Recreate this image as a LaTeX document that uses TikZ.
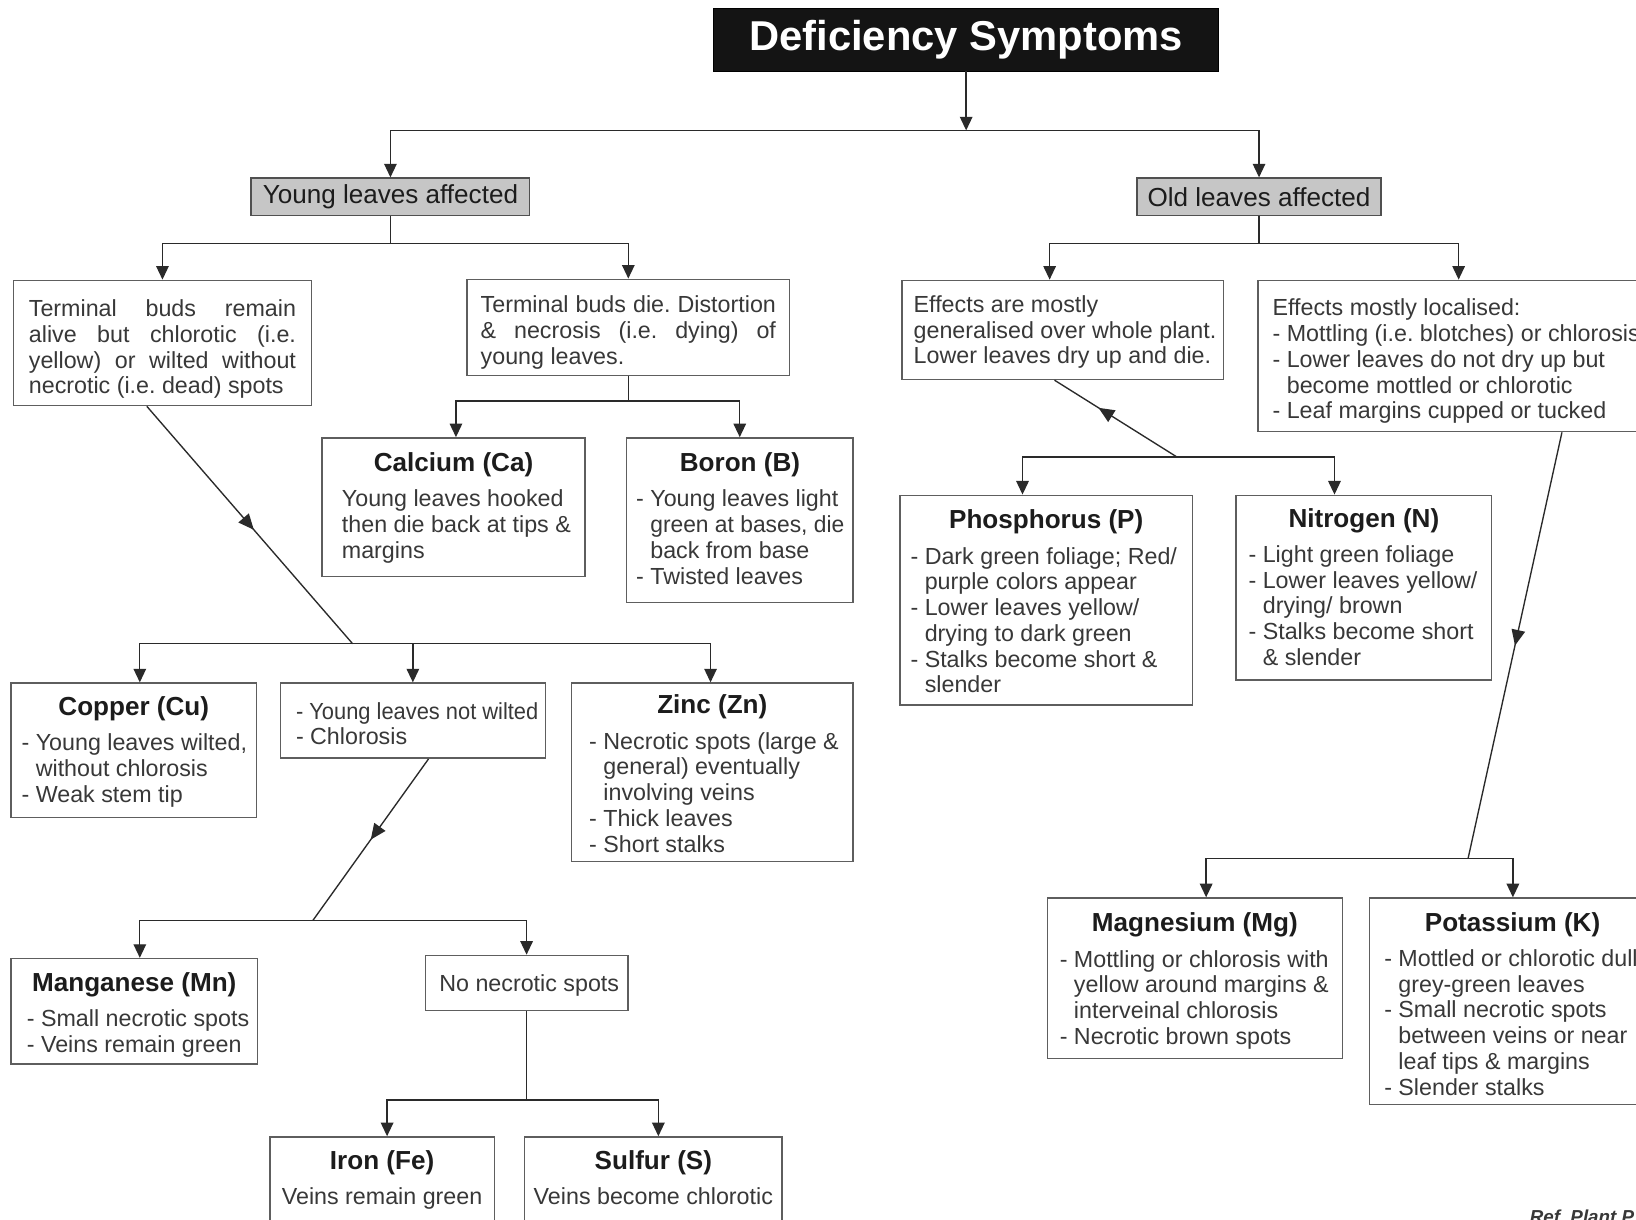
\documentclass[tikz,border=0pt]{standalone}
\usepackage{fontspec}
\setmainfont{Liberation Sans}
\usetikzlibrary{arrows.meta,decorations.markings}
\frenchspacing
\definecolor{titlec}{HTML}{141414}
\definecolor{lblfill}{HTML}{C6C6C6}
\definecolor{lblc}{HTML}{505050}
\definecolor{boxc}{HTML}{5E5E5E}
\definecolor{linec}{HTML}{2A2A2A}
\definecolor{txtc}{HTML}{383838}
\definecolor{headc}{HTML}{1C1C1C}
\newcommand\bodyf{\fontsize{22.3}{24.7}\selectfont}
\newcommand\headf{\fontsize{25}{28}\selectfont\bfseries}
\newcommand\rs{\spaceskip=0pt\xspaceskip=0pt\relax}
\newcommand\hd[1]{{\centering\headf\leavevmode\color{headc}#1\par}\vspace{9pt}}
\newcommand\ind{\hphantom{-\ }}
\newcommand\bt[1]{\vspace{-#1pt}}
\newenvironment{bl}{\begin{tabular}[t]{@{}l@{}}}{\end{tabular}}
\newcommand\js[2]{\makebox[#1pt][s]{#2}}
\newcommand\sq[2]{\scalebox{#1}[1]{#2}}
\begin{document}
\begin{tikzpicture}[x=1pt,y=-1pt,
  box/.style={draw=boxc, line width=1.4pt, fill=white, anchor=north west, align=left,
    inner ysep=0pt, font=\bodyf, text=txtc},
  grey/.style={draw=lblc, line width=1.4pt, fill=lblfill, minimum height=36pt,
    anchor=north west, inner xsep=0pt, font=\fontsize{25}{30}\selectfont, text=headc},
  conn/.style={draw=linec, line width=1.3pt},
  arr/.style={conn, -{Triangle[length=13pt,width=12pt]}},
  midarr/.style={conn, postaction={decorate}, decoration={markings,
    mark=at position #1 with {\arrow{Triangle[length=15pt,width=13pt]}}}},
  midrev/.style={conn, postaction={decorate}, decoration={markings,
    mark=at position #1 with {\arrowreversed{Triangle[length=15pt,width=13pt]}}}}]
\useasboundingbox (0,0) rectangle (1568,1169);
\clip (0,0) rectangle (1568,1169);
\fill[white] (0,0) rectangle (1568,1169);

% title and level 1
\node[draw=black, fill=titlec, text=white, minimum width=484pt, minimum height=60pt,
  inner sep=0pt, font=\fontsize{40}{48}\selectfont\bfseries] (title) at (926,38)
  {\raisebox{-3pt}{Deficiency Symptoms}};
\node[grey, minimum width=267pt] (young) at (240,170) {\raisebox{-1.5pt}{Young leaves affected}};
\node[grey, minimum width=234pt] (old) at (1089,170) {\raisebox{-1.5pt}{Old leaves affected}};

% young side
\node[box, inner xsep=15pt, text width=256pt, minimum height=120pt] (tA) at (12,268)
  {\rs\js{256}{Terminal buds remain}\\\js{256}{alive but chlorotic (i.e.}\\\js{256}{yellow) or wilted without}\\necrotic (i.e. dead) spots\bt{12}};
\node[box, inner xsep=13pt, text width=283pt, minimum height=92pt] (tB) at (447,267)
  {\rs\js{283}{Terminal buds die. Distortion}\\\js{283}{\& necrosis (i.e. dying) of}\\young leaves.\bt{10}};
\node[box, inner xsep=19pt, text width=214pt, minimum height=133pt] (ca) at (308,419)
  {\rs\hd{Calcium (Ca)}\begin{bl}Young leaves hooked\\then die back at tips \&\\margins\end{bl}\bt{4}};
\node[box, inner xsep=9pt, text width=199pt, minimum height=158pt] (bo) at (600,419)
  {\rs\hd{Boron (B)}\begin{bl}- Young leaves light\\\ind \sq{0.98}{green at bases, die}\\\ind back from base\\- Twisted leaves\end{bl}\bt{4}};
\node[box, inner xsep=10pt, text width=215pt, minimum height=129pt] (cu) at (10,654)
  {\rs\hd{Copper (Cu)}\begin{bl}- Young leaves wilted,\\\ind without chlorosis\\- Weak stem tip\end{bl}\bt{6}};
\node[box, inner xsep=15pt, text width=224pt, minimum height=72pt] (yl) at (268,654)
  {\rs\begin{bl}\sq{0.94}{- Young leaves not wilted}\\- Chlorosis\end{bl}\bt{12}};
\node[box, inner xsep=17pt, text width=236pt, minimum height=171pt] (zn) at (547,654)
  {\rs\hd{Zinc (Zn)}\begin{bl}- Necrotic spots (large \&\\\ind general) eventually\\\ind involving veins\\- Thick leaves\\- Short stalks\end{bl}\bt{10}};
\node[box, inner xsep=15pt, text width=206pt, minimum height=101pt] (mn) at (10,918)
  {\rs\hd{Manganese (Mn)}\begin{bl}- Small necrotic spots\\- Veins remain green\end{bl}\bt{10}};
\node[box, inner xsep=0pt, text width=194pt, minimum height=53pt] (nn) at (407,915)
  {\rs{\centering\hspace*{5pt}No necrotic spots\par}\bt{10}};
\node[box, inner xsep=8pt, inner ysep=13pt, text width=199pt] (fe) at (258,1089)
  {\rs\hd{Iron (Fe)}{\centering\mbox{Veins remain green}\rule[-45pt]{0pt}{45pt}\par}};
\node[box, inner xsep=8pt, inner ysep=13pt, text width=231pt] (su) at (502,1089)
  {\rs\hd{Sulfur (S)}{\centering\mbox{Veins become chlorotic}\rule[-45pt]{0pt}{45pt}\par}};

% old side
\node[box, inner xsep=11pt, text width=286pt, minimum height=95pt] (tC) at (864,268)
  {\rs\begin{bl}Effects are mostly\\generalised over whole plant.\\Lower leaves dry up and die.\end{bl}\bt{6}};
\node[box, inner xsep=14pt, text width=362pt, minimum height=145pt] (tD) at (1205,268)
  {\rs\begin{bl}Effects mostly localised:\\- Mottling (i.e. blotches) or chlorosis\\- Lower leaves do not dry up but\\\ind become mottled or chlorotic\\- Leaf margins cupped or tucked\end{bl}\bt{12}};
\node[box, inner xsep=10pt, text width=260pt, minimum height=201pt] (ph) at (862,474)
  {\rs\hd{Phosphorus (P)}\begin{bl}- Dark green foliage; Red/\\\ind purple colors appear\\- Lower leaves yellow/\\\ind drying to dark green\\- Stalks become short \&\\\ind slender\end{bl}\bt{10}};
\node[box, inner xsep=12pt, text width=221pt, minimum height=177pt] (ni) at (1184,474)
  {\rs\hd{Nitrogen (N)}\begin{bl}- Light green foliage\\- Lower leaves yellow/\\\ind drying/ brown\\- Stalks become short\\\ind\& slender\end{bl}\bt{6}};
\node[box, inner xsep=12pt, text width=259pt, minimum height=154pt] (mg) at (1003,860)
  {\rs\hd{Magnesium (Mg)}\begin{bl}- Mottling or chlorosis with\\\ind yellow around margins \&\\\ind interveinal chlorosis\\- Necrotic brown spots\end{bl}\bt{8}};
\node[box, inner xsep=14pt, text width=246pt, minimum height=198pt] (po) at (1312,860)
  {\rs\hd{Potassium (K)}\begin{bl}- Mottled or chlorotic dull\\\ind grey-green leaves\\- Small necrotic spots\\\ind between veins or near\\\ind leaf tips \& margins\\- Slender stalks\end{bl}\bt{12}};

\node[anchor=base west, inner sep=0pt, text=txtc, font=\fontsize{18}{20}\selectfont\bfseries\itshape]
  (ref) at (1466,1173) {Ref. Plant P};

% junction points
\coordinate (j0) at (926,125);
\coordinate (j1) at ([yshift=-26pt]young.south);
\coordinate (j2) at ([yshift=-24pt]tB.south);
\coordinate (jA) at (338,617);
\coordinate (jB) at (300,882);
\coordinate (jC) at ([yshift=-85pt]nn.south);
\coordinate (j3) at ([yshift=-26pt]old.south);
\coordinate (jD) at (1128,438);
\coordinate (jE) at (1407,823);

% connectors
\draw[arr] (title) -- (j0);
\draw[arr] (j0) -| (young.north);
\draw[arr] (j0) -| (old.north);
\draw[conn] (young.south) -- (j1);
\draw[arr] (j1) -| (tA.north);
\draw[arr] (j1) -| (tB.north);
\draw[conn] (tB.south) -- (j2);
\draw[arr] (j2) -| ([xshift=129pt]ca.north west);
\draw[arr] (j2) -| ([xshift=109pt]bo.north west);
\draw[midarr=0.52] ([xshift=-15pt]tA.south) -- (jA);
\draw[arr] (jA) -| ([xshift=124pt]cu.north west);
\draw[arr] (jA) -| (yl.north);
\draw[arr] (jA) -| ([xshift=134pt]zn.north west);
\draw[midarr=0.5] ([xshift=15pt]yl.south) -- (jB);
\draw[arr] (jB) -| ([xshift=124pt]mn.north west);
\draw[arr] (jB) -| (nn.north);
\draw[conn] (nn.south) -- (jC);
\draw[arr] (jC) -| ([xshift=113pt]fe.north west);
\draw[arr] (jC) -| ([xshift=129pt]su.north west);
\draw[conn] (old.south) -- (j3);
\draw[arr] (j3) -| ([xshift=142pt]tC.north west);
\draw[arr] (j3) -| ([xshift=193pt]tD.north west);
\draw[midrev=0.36] ([xshift=-8pt]tC.south) -- (jD);
\draw[arr] (jD) -| ([xshift=118pt]ph.north west);
\draw[arr] (jD) -| ([xshift=95pt]ni.north west);
\draw[midarr=0.5] ([xshift=292pt]tD.south west) -- (jE);
\draw[arr] (jE) -| ([xshift=153pt]mg.north west);
\draw[arr] (jE) -| ([xshift=138pt]po.north west);
\end{tikzpicture}
\end{document}
